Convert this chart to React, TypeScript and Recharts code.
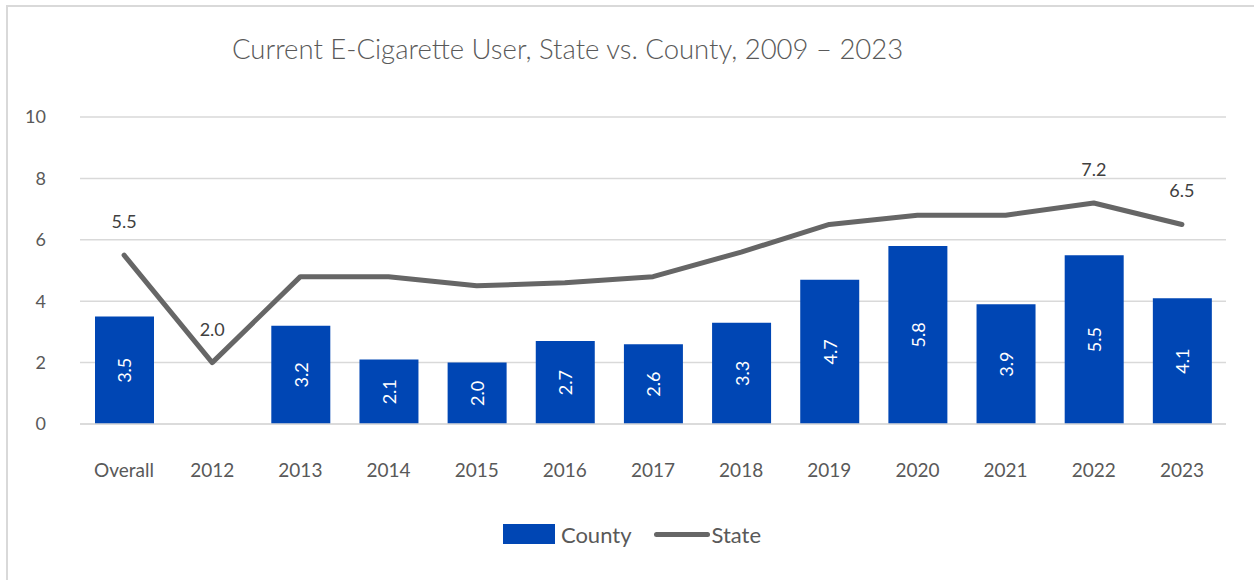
import React from 'react';
import {
  ComposedChart,
  Bar,
  Line,
  XAxis,
  YAxis,
  CartesianGrid,
  Legend,
  LabelList,
} from 'recharts';

const categories = ['Overall', '2012', '2013', '2014', '2015', '2016', '2017', '2018', '2019', '2020', '2021', '2022', '2023'];
const countyValues: (number | null)[] = [3.5, null, 3.2, 2.1, 2.0, 2.7, 2.6, 3.3, 4.7, 5.8, 3.9, 5.5, 4.1];
const stateValues = [5.5, 2.0, 4.8, 4.8, 4.5, 4.6, 4.8, 5.6, 6.5, 6.8, 6.8, 7.2, 6.5];
const stateLabelled = ['Overall', '2012', '2022', '2023'];
const yTicks = [0, 2, 4, 6, 8, 10];

const data = categories.map((c, i) => ({ name: c, County: countyValues[i], State: stateValues[i] }));

const FONT = 'Lato, "Open Sans", sans-serif';
const GREY = '#595959';
const BLUE = '#0046B4';
const LINE = '#666666';

const BarValue = (props: any) => {
  const { x, y, width, height, value } = props;
  if (value == null) return null;
  const cx = x + width / 2;
  const cy = y + height / 2;
  return (
    <text
      x={cx}
      y={cy}
      transform={`rotate(-90 ${cx} ${cy})`}
      textAnchor="middle"
      dominantBaseline="central"
      fill="#ffffff"
      fontSize={18}
      fontFamily={FONT}
    >
      {Number(value).toFixed(1)}
    </text>
  );
};

const StateValue = (props: any) => {
  const { x, y, value, index } = props;
  if (!stateLabelled.includes(categories[index])) return null;
  return (
    <text x={x} y={y - 34} textAnchor="middle" dominantBaseline="central" fill="#404040" fontSize={18} fontFamily={FONT}>
      {Number(value).toFixed(1)}
    </text>
  );
};

const LegendBox = () => (
  <div
    style={{
      display: 'flex',
      justifyContent: 'center',
      alignItems: 'center',
      height: 40,
      paddingLeft: 38,
      fontFamily: FONT,
      fontSize: 22,
      color: GREY,
    }}
  >
    <span style={{ display: 'inline-block', width: 52, height: 20, background: BLUE, marginRight: 6 }} />
    <span style={{ marginRight: 22 }}>County</span>
    <span style={{ display: 'inline-block', width: 56, height: 5, background: LINE, borderRadius: 3, marginRight: 2 }} />
    <span>State</span>
  </div>
);

export default function App() {
  return (
    <div style={{ position: 'absolute', left: 0, top: 0, width: 1254, height: 580, background: '#fff', overflow: 'hidden' }}>
      <div style={{ position: 'absolute', left: 6, top: 5, width: 1260, height: 600, border: '2px solid #d9d9d9', boxSizing: 'border-box' }} />
      <div
        style={{
          position: 'absolute',
          left: 232,
          top: 32,
          fontFamily: FONT,
          fontSize: 27.5,
          fontWeight: 300,
          color: GREY,
          whiteSpace: 'nowrap',
        }}
      >
        Current E-Cigarette User, State vs. County, 2009 – 2023
      </div>
      <div style={{ position: 'absolute', left: 0, top: 0 }}>
        <ComposedChart
          width={1254}
          height={580}
          data={data}
          margin={{ top: 117, right: 28, bottom: 26, left: 0 }}
          barSize={59}
        >
          <CartesianGrid vertical={false} stroke="#d9d9d9" strokeWidth={1.5} />
          <XAxis
            dataKey="name"
            height={90}
            axisLine={{ stroke: '#d9d9d9', strokeWidth: 1.5 }}
            tickLine={false}
            interval={0}
            tick={{ fill: GREY, fontSize: 19, fontFamily: FONT, dy: 32 }}
          />
          <YAxis
            width={80}
            domain={[0, 10]}
            ticks={yTicks}
            axisLine={false}
            tickLine={false}
            tick={{ fill: GREY, fontSize: 18, fontFamily: FONT, dx: -26 }}
          />
          <Legend verticalAlign="bottom" content={<LegendBox />} />
          <Bar dataKey="County" fill={BLUE} isAnimationActive={false}>
            <LabelList dataKey="County" content={<BarValue />} />
          </Bar>
          <Line
            dataKey="State"
            type="linear"
            stroke={LINE}
            strokeWidth={5}
            dot={false}
            activeDot={false}
            strokeLinejoin="round"
            strokeLinecap="round"
            isAnimationActive={false}
          >
            <LabelList dataKey="State" content={<StateValue />} />
          </Line>
        </ComposedChart>
      </div>
    </div>
  );
}
